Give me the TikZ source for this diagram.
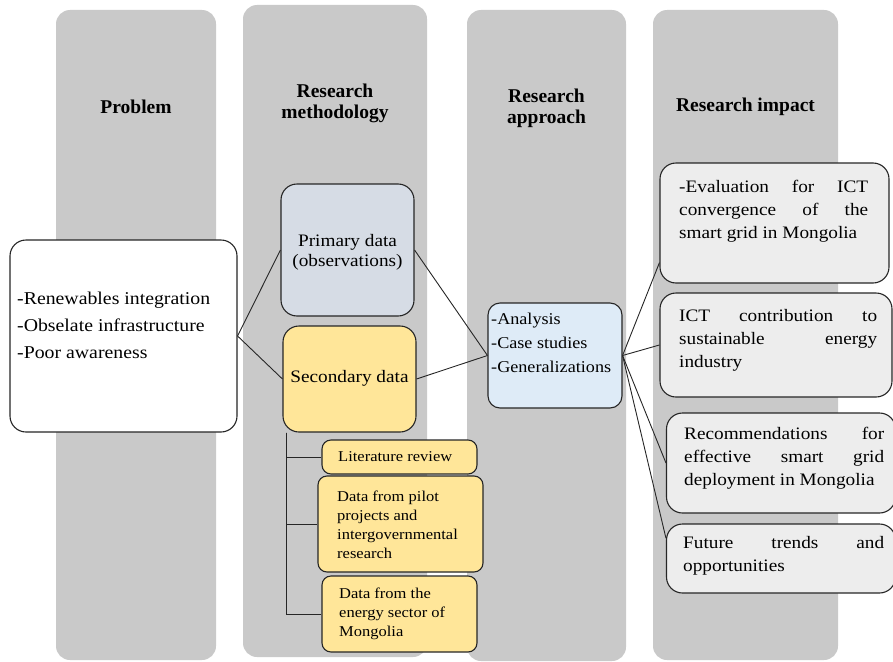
\documentclass[tikz,border=0pt]{standalone}
\usepackage{fontspec}
\setmainfont{Liberation Serif}
\newfontfamily\bodyfont{Liberation Serif}[FakeStretch=1.1]
\usepackage{tikz}
\usetikzlibrary{positioning}
\usetikzlibrary{calc}

\definecolor{ColGrey}{HTML}{C9C9C9}
\definecolor{BoxLine}{HTML}{262626}
\definecolor{PrimFill}{HTML}{D6DCE5}
\definecolor{SecFill}{HTML}{FFE699}
\definecolor{ApprFill}{HTML}{DEEBF7}
\definecolor{ImpFill}{HTML}{EDEDED}

% justified boxes: no hyphens, accept loose lines
\tolerance=10000
\hbadness=10000
\hyphenpenalty=10000

\begin{document}
\begin{tikzpicture}[x=1pt, y=-1pt,
	column/.style = {fill=ColGrey, rounded corners=14pt},
	box/.style = {draw=BoxLine, line width=1.1pt, rounded corners=16pt, inner sep=0pt},
	smallbox/.style = {box, fill=SecFill, rounded corners=9pt},
	impbox/.style = {box, fill=ImpFill, minimum width=229pt},
	link/.style = {draw=BoxLine, line width=0.9pt},
	heading/.style = {font=\fontsize{19.5}{21}\selectfont\bfseries, align=center, inner sep=0pt},
	txt/.style = {inner sep=0pt, align=left},
	imptxt/.style = {inner sep=0pt, anchor=west, align=justify,
		font=\bodyfont\fontsize{17.5}{23}\selectfont},
	]
	
	% ------------------------------------------------
	% Ensure the dimensions of graphic are appropriate
	\useasboundingbox (0,0) rectangle (893,661);
	
	% ------------------------------------------------
	% Grey columns
	\fill[column] (56,10)  rectangle (216,660);
	\fill[column] (243,5)  rectangle (427,657);
	\fill[column] (467,10) rectangle (626,661);
	\fill[column] (653,10) rectangle (838,660);
	
	% Column headings
	\node[heading] (HeadProblem)  at (136,107)   {Problem};
	\node[heading] (HeadMethod)   at (335,103)   {Research\\methodology};
	\node[heading] (HeadApproach) at (546.5,108) {Research\\approach};
	\node[heading] (HeadImpact)   at (745.5,107) {Research impact};
	
	% ------------------------------------------------
	% Problem
	\node[box, fill=white, minimum width=227pt, minimum height=192pt] (Problem) at (123.5,336) {};
	\node[txt, anchor=west, font=\bodyfont\fontsize{18}{27}\selectfont] (ProblemText) at (17,325)
		{-Renewables integration\\-Obselate infrastructure\\-Poor awareness};
	
	% ------------------------------------------------
	% Methodology
	\node[box, fill=PrimFill, minimum width=133pt, minimum height=132pt] (Primary) at (347.5,250) {};
	\node[txt, align=center, font=\bodyfont\fontsize{17.5}{20}\selectfont] (PrimaryText) at (347.5,252)
		{Primary data\\(observations)};
	
	\node[box, fill=SecFill, minimum width=133pt, minimum height=106pt] (Secondary) at (349.5,379) {};
	\node[txt, font=\bodyfont\fontsize{17.5}{20}\selectfont] (SecondaryText) at (349.5,378) {Secondary data};
	
	\node[smallbox, minimum width=155pt, minimum height=34pt] (Literature) at (399.5,457) {};
	\node[smallbox, minimum width=165pt, minimum height=96pt] (Pilot)      at (400.5,524) {};
	\node[smallbox, minimum width=155pt, minimum height=76pt] (Energy)     at (399.5,614) {};
	
	\node[txt, anchor=west, font=\bodyfont\fontsize{15}{19}\selectfont] (LiteratureText) at (338,457)
		{Literature review};
	\node[txt, anchor=west, font=\bodyfont\fontsize{15}{19}\selectfont] (PilotText) at (337,524.5)
		{Data from pilot\\projects and\\intergovernmental\\research};
	\node[txt, anchor=west, font=\bodyfont\fontsize{15}{19}\selectfont] (EnergyText) at (339,614)
		{Data from the\\energy sector of\\Mongolia};
	
	% ------------------------------------------------
	% Approach
	\node[box, fill=ApprFill, rounded corners=12pt, minimum width=134pt, minimum height=105pt] (Approach) at (555,355.5) {};
	\node[txt, anchor=west, font=\bodyfont\fontsize{16.5}{24}\selectfont] (ApproachText) at (491,343)
		{-Analysis\\-Case studies\\-Generalizations};
	
	% ------------------------------------------------
	% Impact
	\node[impbox, minimum height=120pt] (ImpactA) at (774.5,223) {};
	\node[impbox, minimum width=232pt, minimum height=104pt] (ImpactB) at (776,345) {};
	\node[impbox, minimum height=100pt] (ImpactC) at (781,463) {};
	\node[impbox, minimum height=69pt]  (ImpactD) at (781,558.5) {};
	
	\node[imptxt, text width=189pt] (ImpactAText) at (679,211)
		{-Evaluation for ICT\linebreak convergence of the\linebreak smart grid in Mongolia};
	\node[imptxt, text width=198pt] (ImpactBText) at (679,340)
		{ICT contribution to\linebreak sustainable energy\linebreak industry};
	\node[imptxt, text width=200pt] (ImpactCText) at (684,458)
		{Recommendations for\linebreak effective smart grid\linebreak deployment in Mongolia};
	\node[imptxt, text width=201pt] (ImpactDText) at (683,555.5)
		{Future trends and\linebreak opportunities};
	
	% ------------------------------------------------
	% Connectors
	\draw[link] (Problem.east) -- (Primary.west);
	\draw[link] (Problem.east) -- (Secondary.west);
	
	\draw[link] (Primary.east)   -- (Approach.west);
	\draw[link] (Secondary.east) -- (Approach.west);
	
	% Tree below the secondary data
	\path (Secondary.south west) +(4,0) coordinate (TreeTop);
	\draw[link] (TreeTop) |- (Literature.west);
	\draw[link] (TreeTop) |- (Pilot.west);
	\draw[link] (TreeTop) |- (Energy.west);
	
	\draw[link] (Approach.east) -- (ImpactA.199);
	\draw[link] (Approach.east) -- (ImpactB.west);
	\draw[link] (Approach.east) -- (ImpactC.west);
	\draw[link] (Approach.east) -- (ImpactD.170);
	
\end{tikzpicture}
\end{document}
